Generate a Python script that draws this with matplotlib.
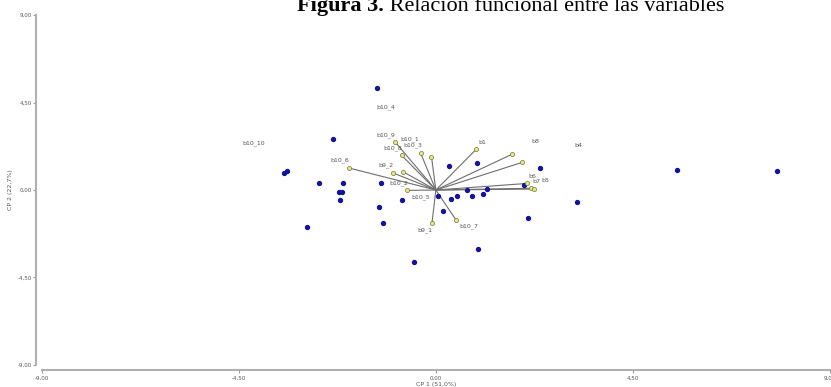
import numpy as np
import matplotlib.pyplot as plt

# observations (blue points): CP1, CP2 scores
obs_x = [-1.35, -2.36, -3.47, -3.41, -2.66, -2.13, -2.22, -2.15, -2.18, -1.26,
         -1.31, -1.21, -2.95, -0.50, -0.77, 0.29, 0.06, 0.17, 0.35, 0.49,
         0.71, 0.82, 1.08, 1.17, 0.94, 2.39, 2.01, 3.22, 2.10, 0.96, 5.50, 7.80]
obs_y = [5.26, 2.64, 0.87, 0.98, 0.34, 0.34, -0.10, -0.10, -0.53, 0.38,
         -0.87, -1.70, -1.92, -3.70, -0.53, 1.22, -0.29, -1.06, -0.46, -0.31,
         0.00, -0.31, -0.22, 0.04, 1.40, 1.15, 0.24, -0.62, -1.44, -3.03, 1.03, 0.99]

# variables (vectors from the origin)
var_names = ['b10_9', 'b10_8', 'b10_1', 'b10_3', 'b10_6', 'b9_2', 'b10_2', 'b10_5',
             'b9_1', 'b10_7', 'b1', 'b8', 'b4', 'b6', 'b7', 'b5']
var_x = [-0.93, -0.78, -0.35, -0.10, -1.98, -0.99, -0.75, -0.65,
         -0.09, 0.46, 0.92, 1.74, 1.97, 2.09, 2.18, 2.24]
var_y = [2.47, 1.78, 1.91, 1.71, 1.13, 0.89, 0.94, -0.02,
         -1.72, -1.54, 2.09, 1.84, 1.42, 0.34, 0.09, 0.05]

# label positions (as placed by the original software)
lab_names = ['b10_4', 'b10_10', 'b10_9', 'b10_1', 'b10_8', 'b10_3', 'b10_6', 'b9_2',
             'b10_2', 'b10_5', 'b9_1', 'b10_7', 'b1', 'b8', 'b4', 'b6', 'b7', 'b5']
lab_x = [-1.35, -4.43, -1.35, -0.82, -1.21, -0.75, -2.40, -1.32,
         -1.07, -0.55, -0.43, 0.53, 0.98, 2.19, 3.17, 2.12, 2.21, 2.40]
lab_y = [4.27, 2.42, 2.83, 2.62, 2.16, 2.31, 1.54, 1.29,
         0.36, -0.36, -2.06, -1.85, 2.42, 2.52, 2.31, 0.67, 0.46, 0.51]

ticks = [-9, -4.5, 0, 4.5, 9]

fig = plt.figure(figsize=(8.31, 3.87), dpi=100)
ax = fig.add_axes([0.0505, 0.057, 0.948, 0.904])

# vectors
for vx, vy in zip(var_x, var_y):
    ax.plot([0, vx], [0, vy], color='#6e6e6e', lw=0.8, zorder=2)
ax.scatter(var_x, var_y, s=9, facecolor='#e6e68c', edgecolor='#7a7a30',
           linewidths=0.5, zorder=4)

# observations
ax.scatter(obs_x, obs_y, s=8, color='#14149a', zorder=3)

for name, lx, ly in zip(lab_names, lab_x, lab_y):
    ax.text(lx, ly, name, fontsize=4.5, color='#555555', va='center', ha='left')

ax.set_xlim(-9, 9)
ax.set_ylim(-9, 9)
ax.set_xticks(ticks)
ax.set_yticks(ticks)
fmt = lambda v: ('%.2f' % v).replace('.', ',')
ax.set_xticklabels([fmt(v) for v in ticks])
ax.set_yticklabels([fmt(v) for v in ticks])
ax.tick_params(labelsize=4, colors='#9a9a9a', labelcolor='#555555',
               length=2, width=0.8, pad=1.5)

for s in ['top', 'right']:
    ax.spines[s].set_visible(False)
for s in ['left', 'bottom']:
    ax.spines[s].set_color('#b0b0b0')
    ax.spines[s].set_linewidth(1.5)
    ax.spines[s].set_position(('outward', 4))

ax.set_xlabel('CP 1 (51,0%)', fontsize=4.5, color='#555555', labelpad=1)
ax.set_ylabel('CP 2 (22,7%)', fontsize=4.5, color='#555555', labelpad=3)

# title, bold prefix then regular text (top clipped as in the source)
t1 = fig.text(0.357, 0.972, 'Figura 3.', fontsize=16, fontweight='bold',
              family='Liberation Serif', va='baseline', ha='left')
ax.annotate(' Relación funcional entre las variables', xy=(1, 0), xycoords=t1,
            fontsize=16, family='Liberation Serif', va='bottom', ha='left',
            annotation_clip=False)

fig.savefig('out.png', dpi=100)
